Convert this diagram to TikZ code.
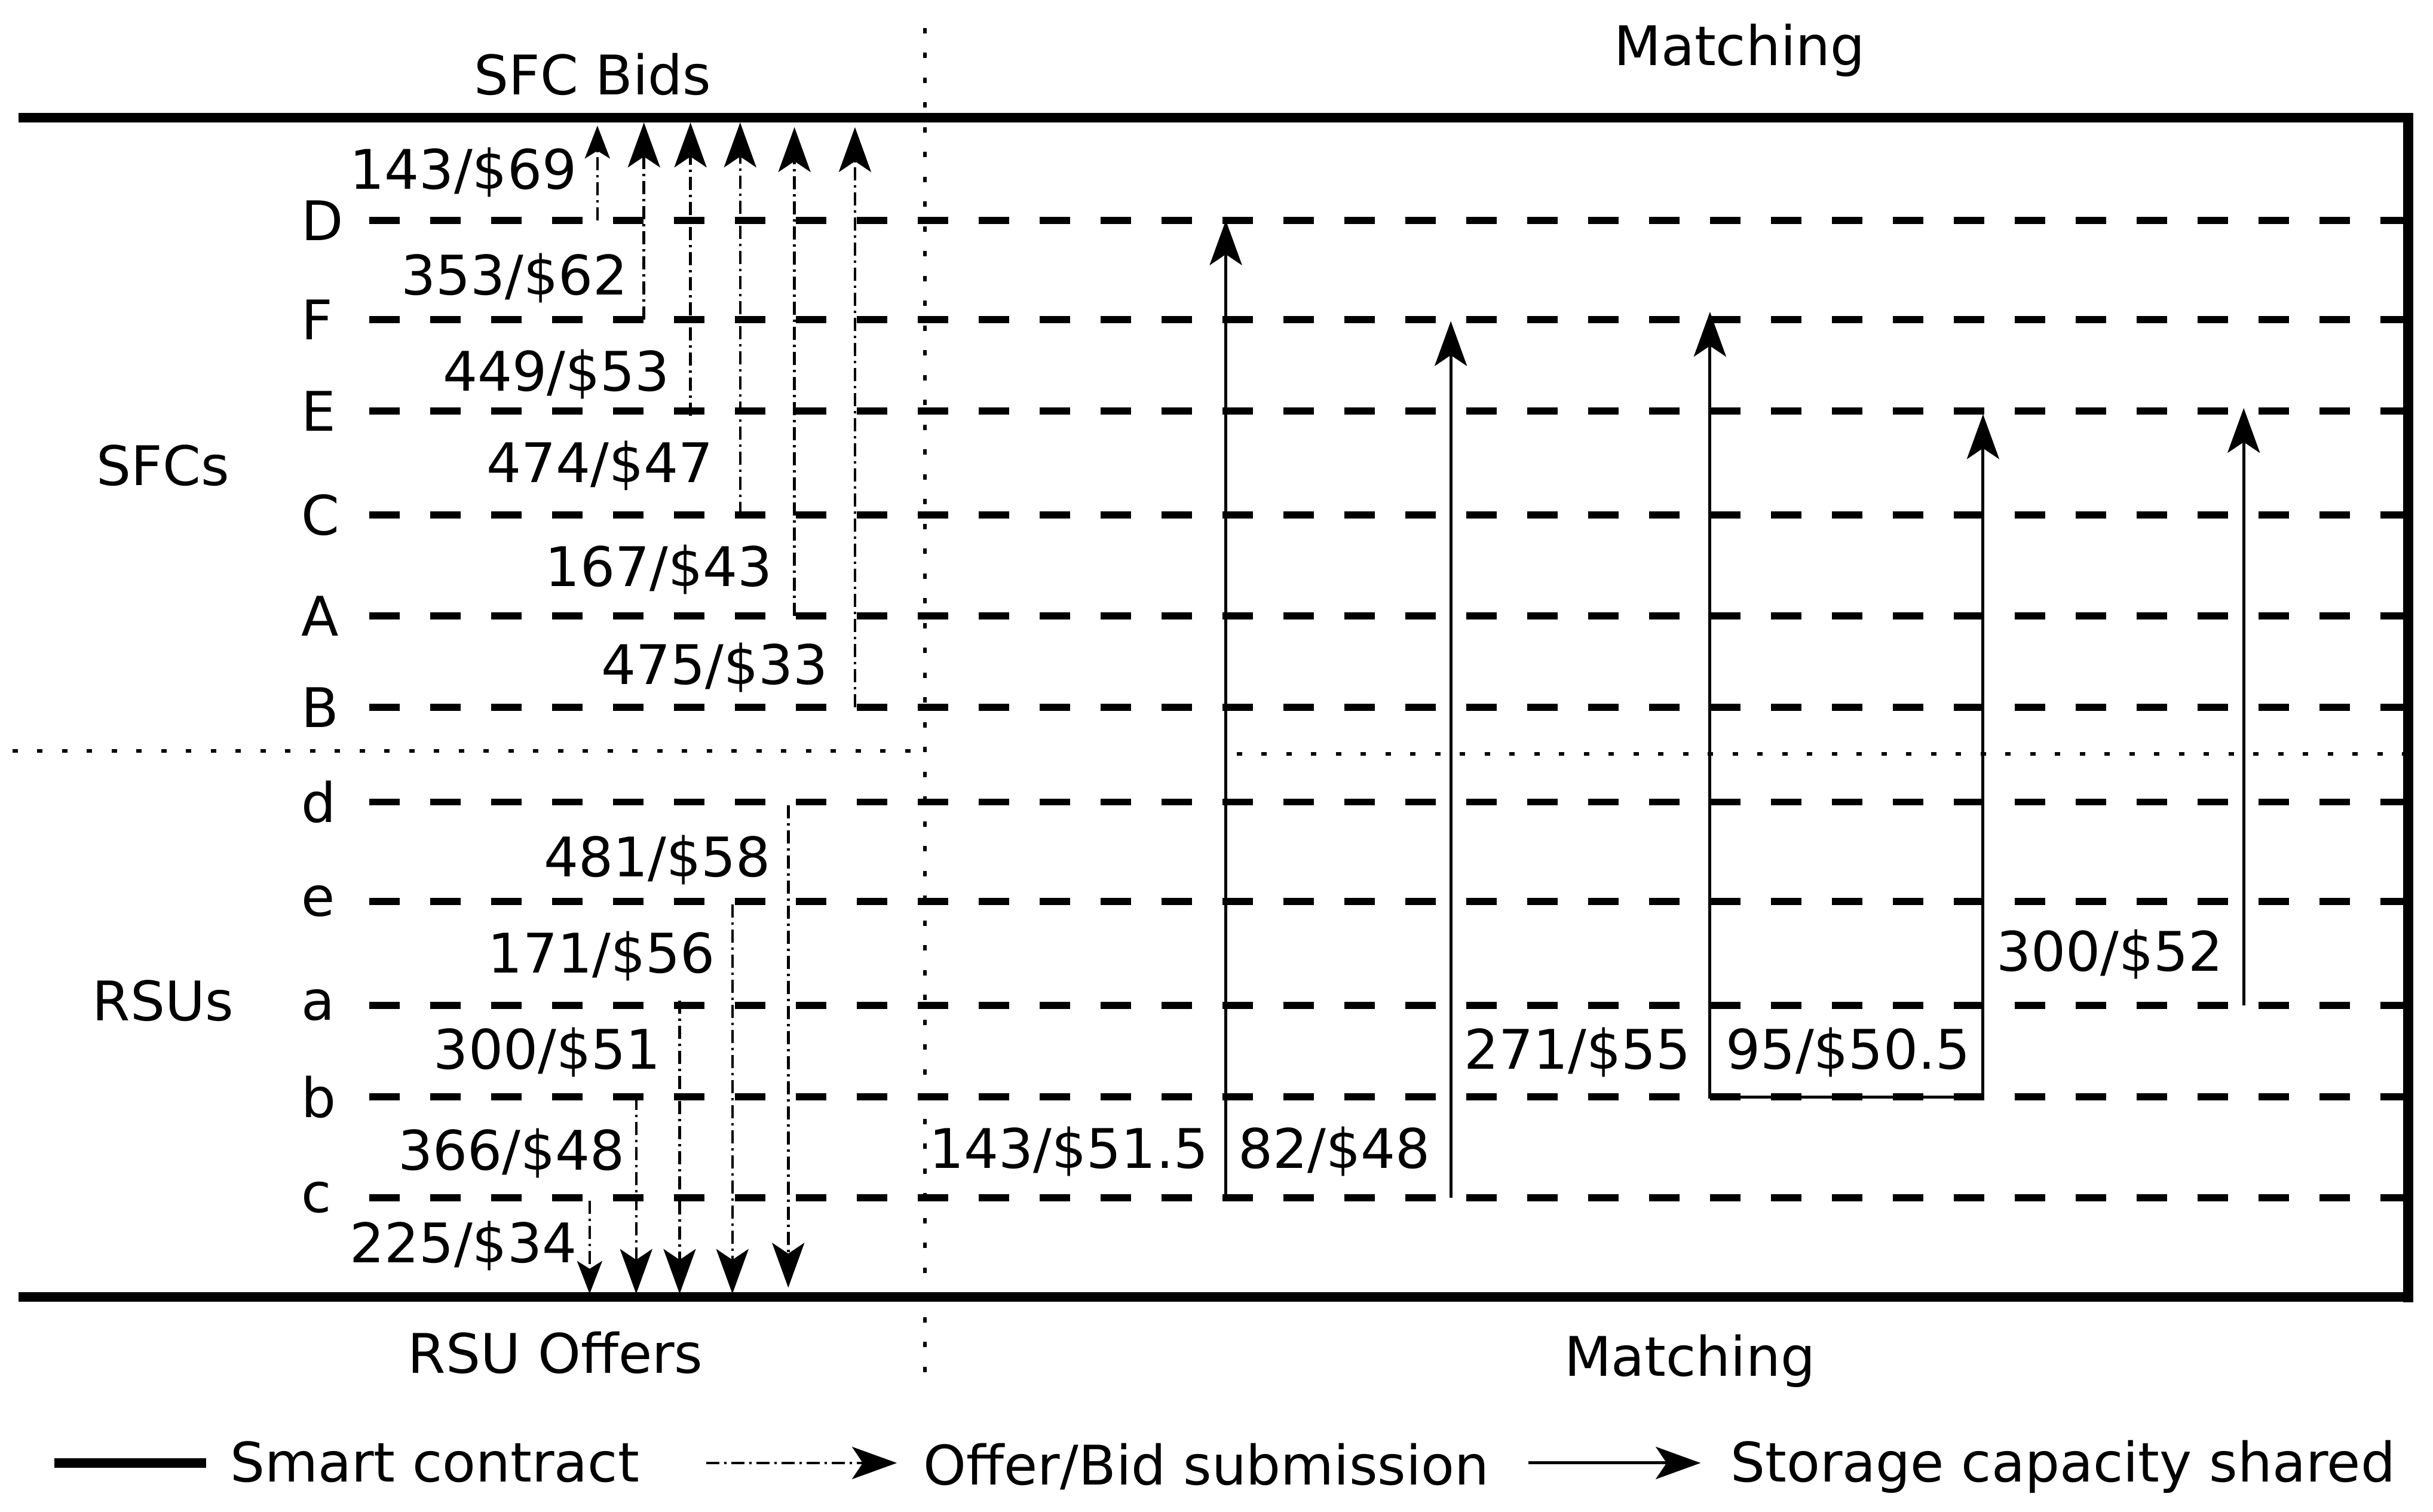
\documentclass[tikz,border=0pt]{standalone}
\usepackage{fontspec}
\setmainfont{DejaVu Sans}
\usetikzlibrary{arrows.meta}
\begin{document}
\begin{tikzpicture}[x=0.2597mm,y=-0.2597mm,
  every node/.style={inner sep=0pt,font=\fontsize{26pt}{30pt}\selectfont},
  frameline/.style={line width=1.6mm},
  rowline/.style={line width=1.15mm,dash pattern=on 5.1mm off 5.1mm},
  sepline/.style={line width=0.65mm,dash pattern=on 0.9mm off 3.25mm},
  bidline/.style={line width=0.45mm,dash pattern=on 2.2mm off 0.8mm on 0.4mm off 0.8mm},
  shareline/.style={line width=0.5mm},
  bigtip/.tip={Stealth[length=7.5mm,width=5.4mm,inset=1.8mm]},
  smalltip/.tip={Stealth[length=5.5mm,width=4.2mm,inset=1.3mm]},
]
\useasboundingbox (0,0) rectangle (1568,974.6);

% separators
\coordinate (vs-t) at (596,18); \coordinate (vs-b) at (596,893);
\draw[sepline] (vs-t) -- (vs-b);
\coordinate (hs-l) at (8,484); \coordinate (hs-m) at (590,484);
\draw[sepline] (hs-l) -- (hs-m);
\coordinate (hs2-l) at (797,486); \coordinate (hs2-r) at (1552,486);
\draw[sepline] (hs2-l) -- (hs2-r);

% rows
\foreach \n/\y in {D/142,F/206,E/265,C/332,A/397,B/456,d/517,e/581,a/648,b/707,c/772}{
  \coordinate (row\n-l) at (238,\y);
  \coordinate (row\n-r) at (1550,\y);
  \draw[rowline] (row\n-l) -- (row\n-r);
  \node[anchor=west] (lab\n) at (194,\y) {\n};
}

% frame
\coordinate (tl) at (12,76); \coordinate (tr) at (1552,76);
\coordinate (bl) at (12,836); \coordinate (br) at (1552,836);
\draw[frameline] (tl) -- (tr);
\draw[frameline] (bl) -- (br);
\draw[line width=1.75mm,line cap=rect] (tr) -- (br);

% titles
\node[anchor=base] (sfcbids) at (382,61) {SFC Bids};
\node[anchor=base] (match1) at (1121,42) {Matching};
\node[anchor=base] (rsuoff) at (358,885) {RSU Offers};
\node[anchor=base] (match2) at (1089,887) {Matching};
\node[anchor=base] (sfcs) at (105,313) {SFCs};
\node[anchor=base] (rsus) at (105,658) {RSUs};

% bids
\coordinate (b1s) at (385,142); \coordinate (b1t) at (385,81);
\draw[bidline,-smalltip] (b1s) -- (b1t);
\node[anchor=base east] (b1l) at (372,122) {143/\$69};
\coordinate (b2s) at (415,206); \coordinate (b2t) at (415,79);
\draw[bidline,-bigtip] (b2s) -- (b2t);
\node[anchor=base east] (b2l) at (405,190) {353/\$62};
\coordinate (b3s) at (445,268); \coordinate (b3t) at (445,79);
\draw[bidline,-bigtip] (b3s) -- (b3t);
\node[anchor=base east] (b3l) at (432,252) {449/\$53};
\coordinate (b4s) at (477,332); \coordinate (b4t) at (477,79);
\draw[bidline,-bigtip] (b4s) -- (b4t);
\node[anchor=base east] (b4l) at (460,311) {474/\$47};
\coordinate (b5s) at (512,397); \coordinate (b5t) at (512,82);
\draw[bidline,-bigtip] (b5s) -- (b5t);
\node[anchor=base east] (b5l) at (498,378) {167/\$43};
\coordinate (b6s) at (551,456); \coordinate (b6t) at (551,82);
\draw[bidline,-bigtip] (b6s) -- (b6t);
\node[anchor=base east] (b6l) at (534,441) {475/\$33};

% offers
\coordinate (o1s) at (508,519); \coordinate (o1t) at (508,830);
\draw[bidline,-bigtip] (o1s) -- (o1t);
\node[anchor=base east] (o1l) at (497,565) {481/\$58};
\coordinate (o2s) at (472,583); \coordinate (o2t) at (472,834);
\draw[bidline,-bigtip] (o2s) -- (o2t);
\node[anchor=base east] (o2l) at (461,627) {171/\$56};
\coordinate (o3s) at (438,645); \coordinate (o3t) at (438,834);
\draw[bidline,-bigtip] (o3s) -- (o3t);
\node[anchor=base east] (o3l) at (426,689) {300/\$51};
\coordinate (o4s) at (410,707); \coordinate (o4t) at (410,834);
\draw[bidline,-bigtip] (o4s) -- (o4t);
\node[anchor=base east] (o4l) at (403,754) {366/\$48};
\coordinate (o5s) at (380,774); \coordinate (o5t) at (380,834);
\draw[bidline,-smalltip] (o5s) -- (o5t);
\node[anchor=base east] (o5l) at (372,814) {225/\$34};

% matching
\coordinate (m1s) at (790,772); \coordinate (m1t) at (790,142);
\draw[shareline,-bigtip] (m1s) -- (m1t);
\node[anchor=base east] (m1l) at (779,753) {143/\$51.5};
\coordinate (m2s) at (935,772); \coordinate (m2t) at (935,207);
\draw[shareline,-bigtip] (m2s) -- (m2t);
\node[anchor=base east] (m2l) at (922,753) {82/\$48};
\coordinate (m3t) at (1102,201); \coordinate (m3s) at (1102,707);
\coordinate (m4s) at (1278,707); \coordinate (m4t) at (1278,267);
\draw[shareline,bigtip-bigtip] (m3t) -- (m3s) -- (m4s) -- (m4t);
\node[anchor=base east] (m3l) at (1090,689) {271/\$55};
\node[anchor=base east] (m4l) at (1270,689) {95/\$50.5};
\coordinate (m5s) at (1446,648); \coordinate (m5t) at (1446,263);
\draw[shareline,-bigtip] (m5s) -- (m5t);
\node[anchor=base east] (m5l) at (1433,626) {300/\$52};

% legend
\coordinate (lg1a) at (35,943); \coordinate (lg1b) at (133,943);
\draw[frameline] (lg1a) -- (lg1b);
\node[anchor=base west] (lgt1) at (148,955) {Smart contract};
\coordinate (lg2a) at (455,943); \coordinate (lg2b) at (578,943);
\draw[bidline,-bigtip] (lg2a) -- (lg2b);
\node[anchor=base west] (lgt2) at (595,957) {Offer/Bid submission};
\coordinate (lg3a) at (985,943); \coordinate (lg3b) at (1096,943);
\draw[shareline,-bigtip] (lg3a) -- (lg3b);
\node[anchor=base west] (lgt3) at (1115,955) {Storage capacity shared};
\end{tikzpicture}
\end{document}
